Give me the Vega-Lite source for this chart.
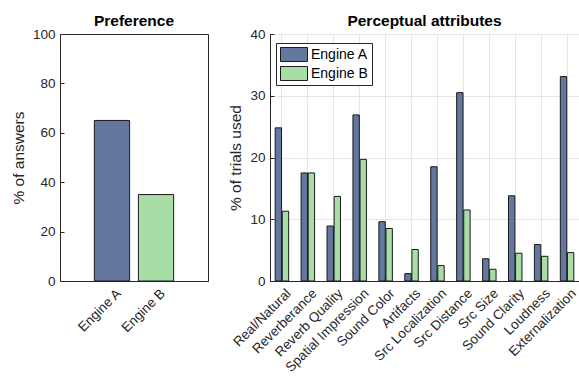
{
  "$schema": "https://vega.github.io/schema/vega-lite/v6.json",
  "padding": {"left": 10, "top": 13, "right": 0, "bottom": 0},
  "spacing": 19,
  "resolve": {"legend": {"color": "independent"}},
  "config": {
    "font": "Liberation Sans",
    "view": {"stroke": "#262626", "strokeWidth": 1},
    "axis": {
      "labelColor": "#262626", "labelFontSize": 13.5, "titleColor": "#262626",
      "titleFontSize": 15.5, "titleFontWeight": "normal", "domainColor": "#262626",
      "tickColor": "#262626", "tickSize": -4, "labelPadding": 9, "titlePadding": 6, "gridColor": "#e6e6e6", "labelFlush": false, "labelOverlap": false
    },
    "axisX": {"labelPadding": 9, "labelOffset": 2, "labelFontSize": 13.5},
    "title": {"fontSize": 15.5, "fontWeight": "bold", "color": "#000000", "offset": -2}
  },
  "hconcat": [
    {
      "width": 148, "height": 247,
      "title": {"text": "Preference"},
      "data": {"values": [
        {"engine": "Engine A", "pct": 65},
        {"engine": "Engine B", "pct": 35}
      ]},
      "mark": {"type": "bar", "stroke": "#1a1a1a", "strokeWidth": 1},
      "encoding": {
        "x": {"field": "engine", "type": "nominal", "sort": null,
          "scale": {"paddingInner": 0.2, "paddingOuter": 0.78},
          "axis": {"title": null, "labelAngle": -45, "bandPosition": 0.5}},
        "y": {"field": "pct", "type": "quantitative", "scale": {"domain": [0, 100], "nice": false},
          "axis": {"title": "% of answers", "values": [0, 20, 40, 60, 80, 100], "grid": false}},
        "color": {"field": "engine", "type": "nominal",
          "scale": {"domain": ["Engine A", "Engine B"], "range": ["#63779f", "#a8dea5"]}, "legend": null}
      }
    },
    {
      "width": 309, "height": 247,
      "title": {"text": "Perceptual attributes"},
      "data": {"values": [
        {"attr": "Real/Natural", "engine": "Engine A", "pct": 24.8},
        {"attr": "Real/Natural", "engine": "Engine B", "pct": 11.3},
        {"attr": "Reverberance", "engine": "Engine A", "pct": 17.5},
        {"attr": "Reverberance", "engine": "Engine B", "pct": 17.5},
        {"attr": "Reverb Quality", "engine": "Engine A", "pct": 8.9},
        {"attr": "Reverb Quality", "engine": "Engine B", "pct": 13.7},
        {"attr": "Spatial Impression", "engine": "Engine A", "pct": 26.9},
        {"attr": "Spatial Impression", "engine": "Engine B", "pct": 19.7},
        {"attr": "Sound Color", "engine": "Engine A", "pct": 9.6},
        {"attr": "Sound Color", "engine": "Engine B", "pct": 8.5},
        {"attr": "Artifacts", "engine": "Engine A", "pct": 1.2},
        {"attr": "Artifacts", "engine": "Engine B", "pct": 5.1},
        {"attr": "Src Localization", "engine": "Engine A", "pct": 18.5},
        {"attr": "Src Localization", "engine": "Engine B", "pct": 2.5},
        {"attr": "Src Distance", "engine": "Engine A", "pct": 30.5},
        {"attr": "Src Distance", "engine": "Engine B", "pct": 11.5},
        {"attr": "Src Size", "engine": "Engine A", "pct": 3.6},
        {"attr": "Src Size", "engine": "Engine B", "pct": 1.9},
        {"attr": "Sound Clarity", "engine": "Engine A", "pct": 13.8},
        {"attr": "Sound Clarity", "engine": "Engine B", "pct": 4.5},
        {"attr": "Loudness", "engine": "Engine A", "pct": 5.9},
        {"attr": "Loudness", "engine": "Engine B", "pct": 4.0},
        {"attr": "Externalization", "engine": "Engine A", "pct": 33.1},
        {"attr": "Externalization", "engine": "Engine B", "pct": 4.6}
      ]},
      "mark": {"type": "bar", "stroke": "#1a1a1a", "strokeWidth": 1},
      "encoding": {
        "x": {"field": "attr", "type": "nominal", "sort": null,
          "scale": {"paddingInner": 0.48, "paddingOuter": 0.2},
          "axis": {"title": null, "labelAngle": -45, "grid": true, "bandPosition": 0.5}},
        "xOffset": {"field": "engine", "type": "nominal", "sort": null, "scale": {"paddingInner": 0.1}},
        "y": {"field": "pct", "type": "quantitative", "scale": {"domain": [0, 40], "nice": false},
          "axis": {"title": "% of trials used", "values": [0, 10, 20, 30, 40], "grid": true}},
        "color": {"field": "engine", "type": "nominal",
          "scale": {"domain": ["Engine A", "Engine B"], "range": ["#63779f", "#a8dea5"]},
          "legend": {"title": null, "orient": "none", "legendX": 6, "legendY": 9,
            "symbolType": "M-1,-0.52H1V0.52H-1Z", "symbolSize": 729,
            "symbolStrokeColor": "#1a1a1a", "symbolStrokeWidth": 1, "symbolOpacity": 1,
            "labelFontSize": 14, "labelColor": "#000000", "labelOffset": 3,
            "clipHeight": 15,
            "fillColor": "#ffffff", "strokeColor": "#262626", "padding": 4, "rowPadding": 4}}
      }
    }
  ]
}
